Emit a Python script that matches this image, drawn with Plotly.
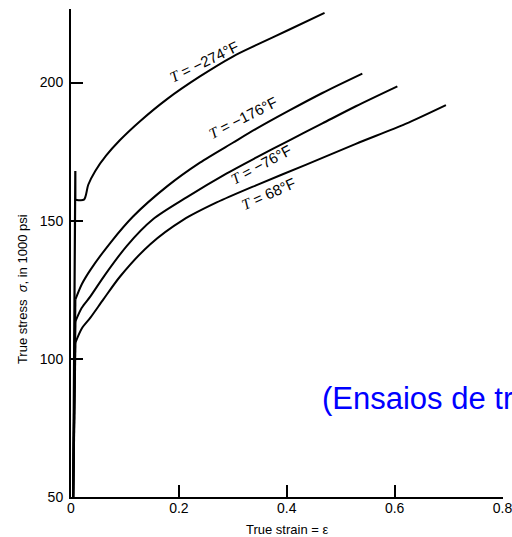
import plotly.graph_objects as go

# ---- data ----
strain_274 = [0.004, 0.008, 0.008, 0.024, 0.032, 0.045, 0.065, 0.09, 0.128, 0.178, 0.239, 0.300, 0.343, 0.404, 0.470]
stress_274 = [50, 168, 157.6, 157.6, 163, 168, 173.5, 179, 186, 194, 202.2, 209.4, 213.5, 219.1, 225.2]
n_el_274 = 3

strain_176 = [0.004, 0.008, 0.02, 0.036, 0.073, 0.115, 0.178, 0.239, 0.300, 0.343, 0.404, 0.466, 0.540]
stress_176 = [50, 121.4, 127, 132.2, 142.0, 151.5, 162.4, 171.0, 178.2, 183.2, 189.8, 196.2, 203.2]

strain_76 = [0.004, 0.008, 0.02, 0.036, 0.063, 0.104, 0.152, 0.215, 0.288, 0.343, 0.404, 0.466, 0.528, 0.605]
stress_76 = [50, 113.5, 118.5, 122.6, 130.4, 141, 150.5, 158.5, 167, 172.8, 179.0, 185.2, 191.4, 198.6]

strain_68 = [0.004, 0.008, 0.02, 0.036, 0.06, 0.091, 0.147, 0.208, 0.270, 0.343, 0.435, 0.528, 0.620, 0.695]
stress_68 = [50, 105.8, 111, 114.9, 121.5, 129.8, 141.5, 150.3, 156.6, 162.8, 170.2, 177.8, 185, 191.8]

x_ticks = [0, 0.2, 0.4, 0.6, 0.8]
x_tick_labels = ["0", "0.2", "0.4", "0.6", "0.8"]
y_ticks = [50, 100, 150, 200]
y_tick_labels = ["50", "100", "150", "200"]

labels = ["−274°F", "−176°F", "−76°F", "68°F"]
label_x = [0.247, 0.319, 0.352, 0.367]
label_y = [207.5, 187.2, 170.4, 159.7]
label_angle = [-26, -27, -28, -24]

curves = [
    (strain_274, stress_274, n_el_274),
    (strain_176, stress_176, 2),
    (strain_76, stress_76, 2),
    (strain_68, stress_68, 2),
]

fig = go.Figure()
for xs, ys, n_el in curves:
    # elastic part (straight)
    fig.add_trace(go.Scatter(x=xs[:n_el], y=ys[:n_el], mode="lines",
                             line=dict(color="black", width=2.2), showlegend=False,
                             hoverinfo="skip"))
    # plastic part (smooth)
    fig.add_trace(go.Scatter(x=xs[n_el - 1:], y=ys[n_el - 1:], mode="lines",
                             line=dict(color="black", width=2, shape="spline", smoothing=0.8),
                             showlegend=False, hoverinfo="skip"))

for t, lx, ly, ang in zip(labels, label_x, label_y, label_angle):
    fig.add_annotation(x=lx, y=ly, xref="x", yref="y", showarrow=False,
                       text='<span style="font-family:Liberation Serif"><i>T</i></span> = ' + t,
                       textangle=ang,
                       font=dict(family="Liberation Sans, Arial", size=15, color="black"))

# axis titles as annotations (positioned freely)
fig.add_annotation(x=0.5, y=-0.0676, xref="paper", yref="paper", showarrow=False,
                   text="True strain = ε", xanchor="center", yanchor="middle",
                   font=dict(family="Liberation Sans, Arial", size=13, color="black"))
fig.add_annotation(x=-0.1134, y=0.426, xref="paper", yref="paper", showarrow=False,
                   text="True stress  <i>σ</i>, in 1000 psi", textangle=-90,
                   xanchor="center", yanchor="middle",
                   font=dict(family="Liberation Sans, Arial", size=13, color="black"))

# blue overlay text (cut off at the right edge)
fig.add_annotation(x=0.462, y=85.6, xref="x", yref="y", showarrow=False,
                   text="(Ensaios de tração)", xanchor="left", yanchor="middle",
                   font=dict(family="Liberation Sans, Arial", size=31, color="#0000ff"))

fig.update_layout(
    width=512, height=537,
    margin=dict(l=71, r=9, t=9, b=40, autoexpand=False),
    paper_bgcolor="white", plot_bgcolor="white",
    showlegend=False,
)
fig.update_xaxes(range=[0, 0.8008], tickmode="array", tickvals=x_ticks, ticktext=x_tick_labels,
                 ticks="inside", ticklen=12, tickwidth=1.5, tickcolor="black",
                 showline=True, linecolor="black", linewidth=2, showgrid=False, zeroline=False,
                 ticklabelstandoff=-3, ticklabeloverflow="allow", automargin=False,
                 tickfont=dict(family="Liberation Sans, Arial", size=14, color="black"))
fig.update_yaxes(range=[50, 226.6], tickmode="array", tickvals=y_ticks, ticktext=y_tick_labels,
                 ticks="inside", ticklen=12, tickwidth=1.5, tickcolor="black",
                 showline=True, linecolor="black", linewidth=2, showgrid=False, zeroline=False,
                 ticklabelstandoff=3, automargin=False,
                 tickfont=dict(family="Liberation Sans, Arial", size=14, color="black"))

# remove the browser's default page margin so the 512x537 figure fills the window exactly
fig.write_html("out.html",
               config={"displayModeBar": False},
               post_script="document.body.style.margin='0';document.body.style.overflow='hidden';")
